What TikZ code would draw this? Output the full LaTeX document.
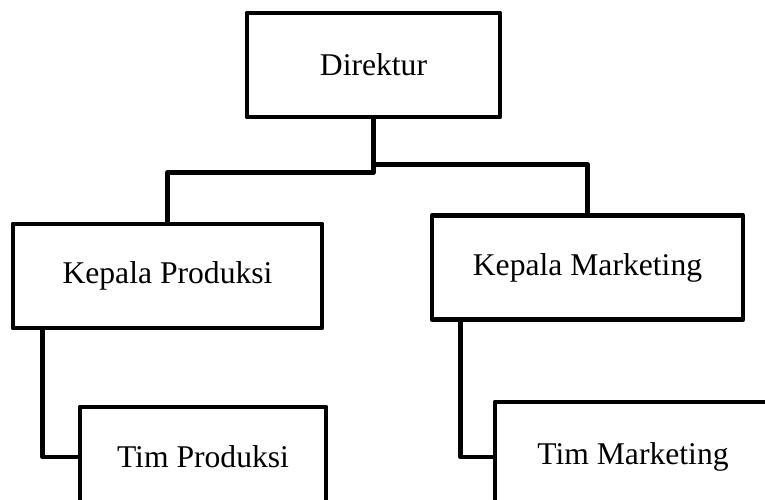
\documentclass[tikz,border=0pt]{standalone}
\usepackage{fontspec}
\setmainfont{Liberation Serif}
\usetikzlibrary{positioning}

\begin{document}
\begin{tikzpicture}[on grid, line join=round,
    box/.style={draw, line width=2.8pt, minimum height=2.08cm, inner sep=0pt,
        font=\fontsize{18}{20}\selectfont},
    link/.style={draw, line width=2.6pt}]
    \useasboundingbox (0,0) rectangle (15.3,-10);
    \clip (0,0) rectangle (15.3,-10);

    \node[box, minimum width=5.06cm] (dir) at (7.47,-1.30) {Direktur};
    \node[box, minimum width=6.18cm, below left=4.22cm and 4.12cm of dir] (kp) {Kepala Produksi};
    \node[box, minimum width=6.22cm, below right=4.05cm and 4.28cm of dir] (km) {Kepala Marketing};
    \node[box, minimum width=4.92cm, minimum height=2cm, below right=3.62cm and 0.71cm of kp] (tp) {Tim Produksi};
    \node[box, minimum width=5.52cm, minimum height=2.2cm, below right=3.79cm and 0.91cm of km] (tm) {Tim Marketing};

    \path[link] (dir.south) -- ([yshift=-1.06cm]dir.south) -| (kp.north);
    \path[link] ([yshift=-0.9cm]dir.south) -| (km.north);
    \path[link] ([xshift=0.64cm]kp.south west) |- (tp.west);
    \path[link] ([xshift=0.62cm]km.south west) |- (tm.west);
\end{tikzpicture}
\end{document}
